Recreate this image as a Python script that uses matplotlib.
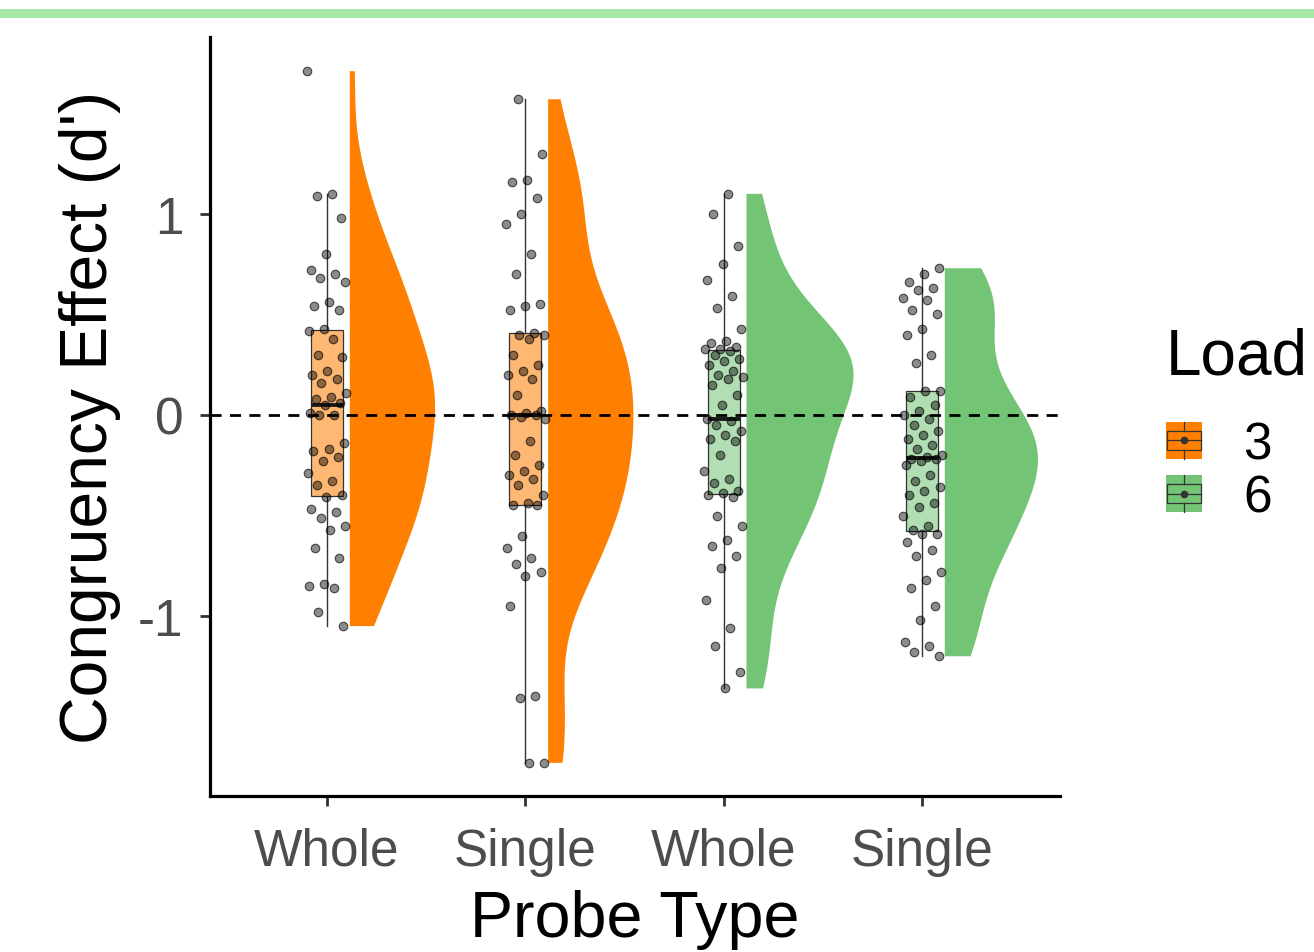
import numpy as np
import matplotlib
matplotlib.use("Agg")
import matplotlib.pyplot as plt
from matplotlib.patches import Rectangle
from matplotlib.lines import Line2D
from matplotlib.legend_handler import HandlerBase

plt.rcParams['font.family'] = ['Liberation Sans', 'DejaVu Sans']
plt.rcParams['axes.unicode_minus'] = False

# ---------------- data ----------------
categories = ["Whole", "Single", "Whole", "Single"]
loads = ["3", "3", "6", "6"]
load_levels = ["3", "6"]
y_ticks = [-1, 0, 1]
y_tick_labels = ["-1", "0", "1"]

g1_load3_whole = [1.71, 1.10, 1.09, 0.98, 0.80, 0.72, 0.70, 0.68, 0.66, 0.56, 0.54, 0.52,
                  0.43, 0.42, 0.38, 0.30, 0.29, 0.22, 0.20, 0.18, 0.16, 0.11, 0.09, 0.08,
                  0.06, 0.05, 0.01, 0.00, 0.00, -0.14, -0.17, -0.18, -0.21, -0.23, -0.29,
                  -0.33, -0.35, -0.40, -0.41, -0.47, -0.48, -0.51, -0.55, -0.57, -0.66,
                  -0.71, -0.84, -0.85, -0.86, -0.98, -1.05]
g2_load3_single = [1.57, 1.30, 1.17, 1.16, 1.08, 1.00, 0.95, 0.80, 0.70, 0.55, 0.54, 0.52,
                   0.41, 0.40, 0.40, 0.38, 0.30, 0.25, 0.22, 0.20, 0.18, 0.10, 0.02, 0.01,
                   0.00, 0.00, -0.01, -0.02, -0.13, -0.20, -0.25, -0.28, -0.30, -0.32,
                   -0.35, -0.40, -0.44, -0.45, -0.45, -0.60, -0.66, -0.71, -0.74, -0.78,
                   -0.80, -0.95, -1.40, -1.41, -1.73, -1.73]
g3_load6_whole = [1.10, 1.00, 0.84, 0.75, 0.67, 0.59, 0.53, 0.43, 0.37, 0.36, 0.34, 0.33,
                  0.33, 0.32, 0.30, 0.28, 0.27, 0.25, 0.22, 0.20, 0.19, 0.18, 0.15, 0.10,
                  0.05, -0.02, -0.03, -0.05, -0.08, -0.10, -0.12, -0.13, -0.20, -0.28,
                  -0.32, -0.34, -0.38, -0.39, -0.40, -0.41, -0.50, -0.55, -0.62, -0.65,
                  -0.70, -0.76, -0.92, -1.06, -1.15, -1.28, -1.36]
g4_load6_single = [0.73, 0.70, 0.66, 0.63, 0.62, 0.58, 0.57, 0.52, 0.50, 0.43, 0.40, 0.30,
                   0.26, 0.12, 0.12, 0.09, 0.05, 0.02, 0.00, -0.02, -0.05, -0.08, -0.10,
                   -0.12, -0.15, -0.17, -0.20, -0.21, -0.22, -0.22, -0.23, -0.25, -0.30,
                   -0.33, -0.36, -0.38, -0.40, -0.44, -0.46, -0.50, -0.55, -0.57, -0.59,
                   -0.59, -0.63, -0.67, -0.70, -0.78, -0.82, -0.86, -0.95, -1.02, -1.13,
                   -1.15, -1.18, -1.20]
groups = [g1_load3_whole, g2_load3_single, g3_load6_whole, g4_load6_single]

# ---------------- style ----------------
load_colors = {"3": "#FF7F00", "6": "#74C476"}
violin_widths = [0.86, 0.86, 1.08, 0.94]
violin_nudge = 0.115
box_width = 0.16
jitter_width = 0.10
label_gray = "#4D4D4D"


def nrd0(kde):
    d = np.asarray(kde.dataset).ravel()
    n = d.size
    sd = d.std(ddof=1)
    q75, q25 = np.percentile(d, [75, 25])
    h = 0.9 * min(sd, (q75 - q25) / 1.34) * n ** -0.2
    return h / sd


fig = plt.figure(figsize=(13.14, 9.53), dpi=100)
ax = fig.add_axes([210 / 1314, 1 - 797 / 953, 850 / 1314, (797 - 38) / 953])

positions = np.arange(1, len(groups) + 1)

for i, (vals, ld) in enumerate(zip(groups, loads)):
    pos = positions[i]
    col = load_colors[ld]
    vals = np.asarray(vals)
    # half violin
    vpos = pos + violin_nudge
    vp = ax.violinplot([vals], positions=[vpos], widths=[violin_widths[i]],
                       showextrema=False, bw_method=nrd0)
    for body in vp['bodies']:
        v = body.get_paths()[0].vertices.copy()
        v[:, 0] = np.maximum(v[:, 0], vpos)
        body.set_verts([v])
        body.set_facecolor(col)
        body.set_edgecolor('none')
        body.set_alpha(1)
        body.set_zorder(2)
    # boxplot
    ax.boxplot([vals], positions=[pos], widths=box_width, patch_artist=True,
               showfliers=False, showcaps=False, whis=1.5, manage_ticks=False,
               boxprops=dict(facecolor=matplotlib.colors.to_rgba(col, 0.55),
                             edgecolor='#333333', linewidth=0.9),
               whiskerprops=dict(color='#333333', linewidth=1.0),
               medianprops=dict(color='#1A1A1A', linewidth=2.8), zorder=3)
    # jittered points (deterministic offsets)
    n = len(vals)
    offs = ((np.arange(n) * 0.618034 + 0.31 * i) % 1.0 - 0.5) * 2 * jitter_width
    ax.scatter(pos + offs, vals, s=38, facecolor=(0, 0, 0, 0.45),
               edgecolor=(0, 0, 0, 0.65), linewidth=0.8, zorder=4)

ax.axhline(0, color='black', linestyle=(0, (4, 3)), linewidth=2.0, zorder=5)

ax.set_xlim(0.41, 4.696)
ax.set_ylim(-1.895, 1.88)
ax.set_xticks(positions)
ax.set_xticklabels(categories)
ax.set_yticks(y_ticks)
ax.set_yticklabels(y_tick_labels)
for s in ['top', 'right']:
    ax.spines[s].set_visible(False)
for s in ['left', 'bottom']:
    ax.spines[s].set_linewidth(2.3)
    ax.spines[s].set_color('black')
ax.tick_params(axis='both', length=7, width=2.0, color='#333333',
               labelcolor=label_gray, labelsize=37)
ax.tick_params(axis='x', pad=15)
ax.tick_params(axis='y', pad=12)
ax.set_xlabel("Probe Type", fontsize=46.5, labelpad=10, color='black')
ax.set_ylabel("Congruency Effect (d')", fontsize=47.5, labelpad=12, color='black')


class BoxKeyHandler(HandlerBase):
    def create_artists(self, legend, orig_handle, xdescent, ydescent, width, height,
                       fontsize, trans):
        col = orig_handle.get_facecolor()
        x0, y0 = -xdescent, -ydescent
        arts = []
        arts.append(Rectangle((x0, y0), width, height, facecolor=col, edgecolor='none',
                              transform=trans))
        lc = '#333333'
        arts.append(Rectangle((x0 + 0.04 * width, y0 + 0.25 * height), 0.92 * width,
                              0.5 * height, facecolor='none', edgecolor=lc, linewidth=0.9,
                              transform=trans))
        cx = x0 + width / 2
        arts.append(Line2D([cx, cx], [y0, y0 + 0.25 * height], color=lc, lw=0.9, transform=trans))
        arts.append(Line2D([cx, cx], [y0 + 0.75 * height, y0 + height], color=lc, lw=0.9, transform=trans))
        arts.append(Line2D([x0 + 0.04 * width, x0 + 0.96 * width], [y0 + height / 2] * 2,
                           color=lc, lw=0.9, transform=trans))
        arts.append(Line2D([cx], [y0 + height / 2], marker='o', markersize=4.5,
                           color='#333333', transform=trans))
        return arts


handles = [Rectangle((0, 0), 1, 1, facecolor=load_colors[l]) for l in load_levels]
leg = fig.legend(handles, load_levels, title="Load", loc='upper left',
                 bbox_to_anchor=(1166 / 1314, 1 - 328 / 953), frameon=False,
                 fontsize=37, title_fontsize=46, handlelength=0.7, handleheight=0.74,
                 handletextpad=0.8, labelspacing=0.08, borderpad=0, borderaxespad=0,
                 alignment='left', handler_map={Rectangle: BoxKeyHandler()})
leg._legend_box.sep = 24

# green band at top
fig.add_artist(Rectangle((0, 1 - 19 / 953), 1, 9 / 953, transform=fig.transFigure,
                         facecolor='#A6E9A6', edgecolor='none'))

fig.savefig("out.png", dpi=100)
